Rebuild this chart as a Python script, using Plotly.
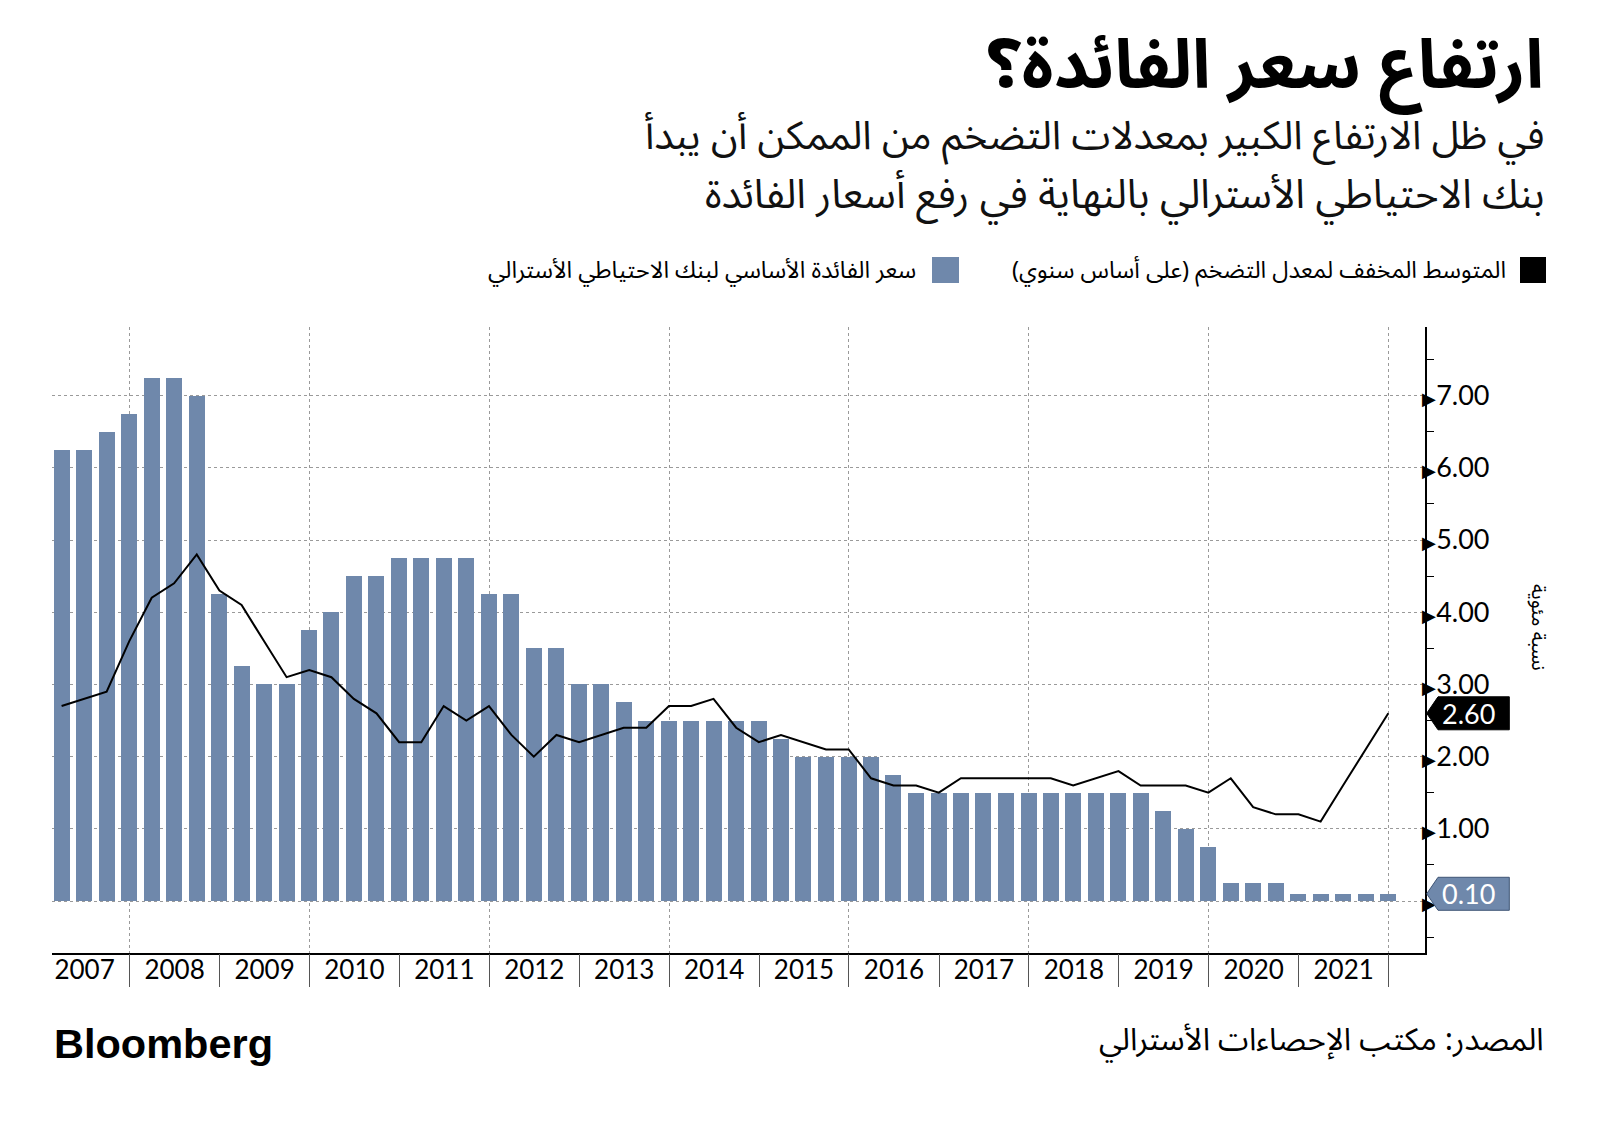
import plotly.graph_objects as go

# ---------------- data ----------------
years = list(range(2007, 2022))
quarter_ends = ["03-31", "06-30", "09-30", "12-31"]

cash_rate = [
    6.25, 6.25, 6.50, 6.75,   # 2007
    7.25, 7.25, 7.00, 4.25,   # 2008
    3.25, 3.00, 3.00, 3.75,   # 2009
    4.00, 4.50, 4.50, 4.75,   # 2010
    4.75, 4.75, 4.75, 4.25,   # 2011
    4.25, 3.50, 3.50, 3.00,   # 2012
    3.00, 2.75, 2.50, 2.50,   # 2013
    2.50, 2.50, 2.50, 2.50,   # 2014
    2.25, 2.00, 2.00, 2.00,   # 2015
    2.00, 1.75, 1.50, 1.50,   # 2016
    1.50, 1.50, 1.50, 1.50,   # 2017
    1.50, 1.50, 1.50, 1.50,   # 2018
    1.50, 1.25, 1.00, 0.75,   # 2019
    0.25, 0.25, 0.25, 0.10,   # 2020
    0.10, 0.10, 0.10, 0.10,   # 2021
]

trimmed_mean = [
    2.7, 2.8, 2.9, 3.6,   # 2007
    4.2, 4.4, 4.8, 4.3,   # 2008
    4.1, 3.6, 3.1, 3.2,   # 2009
    3.1, 2.8, 2.6, 2.2,   # 2010
    2.2, 2.7, 2.5, 2.7,   # 2011
    2.3, 2.0, 2.3, 2.2,   # 2012
    2.3, 2.4, 2.4, 2.7,   # 2013
    2.7, 2.8, 2.4, 2.2,   # 2014
    2.3, 2.2, 2.1, 2.1,   # 2015
    1.7, 1.6, 1.6, 1.5,   # 2016
    1.7, 1.7, 1.7, 1.7,   # 2017
    1.7, 1.6, 1.7, 1.8,   # 2018
    1.6, 1.6, 1.6, 1.5,   # 2019
    1.7, 1.3, 1.2, 1.2,   # 2020
    1.1, 1.6, 2.1, 2.6,   # 2021
]

y_ticks = [0, 1, 2, 3, 4, 5, 6, 7]
y_minor = [-0.5, 0.5, 1.5, 2.5, 3.5, 4.5, 5.5, 6.5, 7.5]
grid_years = [2008, 2010, 2012, 2014, 2016, 2018, 2020, 2022]

title_text = "ارتفاع سعر الفائدة؟"
subtitle_1 = "في ظل الارتفاع الكبير بمعدلات التضخم من الممكن أن يبدأ"
subtitle_2 = "بنك الاحتياطي الأسترالي بالنهاية في رفع أسعار الفائدة"
legend_line = "المتوسط المخفف لمعدل التضخم (على أساس سنوي)"
legend_bar = "سعر الفائدة الأساسي لبنك الاحتياطي الأسترالي"
axis_title = "نسبة مئوية"
source_text = "المصدر: مكتب الإحصاءات الأسترالي"

dates = [f"{y}-{q}" for y in years for q in quarter_ends]

# ---------------- geometry ----------------
W, H = 1600, 1121
ML, MR, MT, MB = 52, 175, 327, 168
PW = W - ML - MR
PH = H - MT - MB
Y0, Y1 = -0.72, 7.95


def px_x(x):
    return (x - ML) / PW


def px_y(y):
    return (H - MB - y) / PH


BAR = "#6f88ab"
ARABIC = "Noto Sans Arabic, DejaVu Sans, Noto Sans, sans-serif"
NUM = "Lato, Open Sans, sans-serif"

fig = go.Figure()
fig.add_trace(go.Bar(
    x=dates, y=cash_rate, name=legend_bar,
    marker=dict(color=BAR, line=dict(width=0)),
    width=65 * 86400000,
))
fig.add_trace(go.Scatter(
    x=dates, y=trimmed_mean, name=legend_line, mode="lines",
    line=dict(color="black", width=2), xaxis="x2", yaxis="y",
))

ytext = ['<span style="font-size:18px">▶</span>%.2f' % v for v in y_ticks]

fig.update_layout(
    width=W, height=H,
    margin=dict(l=ML, r=MR, t=MT, b=MB),
    paper_bgcolor="white", plot_bgcolor="white",
    showlegend=False,
    bargap=0,
    xaxis=dict(
        type="date", range=["2007-02-20", "2022-05-29"],
        tickmode="array", tickvals=[f"{y}-01-01" for y in grid_years],
        showticklabels=False, ticks="",
        showgrid=True, gridcolor="#9a9a9a", griddash="dot", gridwidth=1,
        showline=True, linecolor="black", linewidth=1.5,
        zeroline=False,
    ),
    xaxis2=dict(
        type="date", overlaying="x", matches="x", anchor="y", side="bottom",
        tickmode="linear", tick0="2007-01-01", dtick="M12",
        ticklabelmode="period", tickformat="%Y",
        ticks="outside", ticklen=33, tickcolor="#555555", tickwidth=1,
        ticklabelstandoff=-39,
        tickfont=dict(family=NUM, size=26, color="black"),
        showgrid=False, showline=False, zeroline=False,
    ),
    yaxis=dict(
        side="right", range=[Y0, Y1],
        tickmode="array", tickvals=y_ticks, ticktext=ytext,
        ticks="", ticklabelstandoff=-10,
        tickfont=dict(family=NUM, size=27, color="black"),
        showgrid=True, gridcolor="#9a9a9a", griddash="dot", gridwidth=1,
        showline=True, linecolor="black", linewidth=1.5,
        zeroline=False,
        minor=dict(tickvals=y_minor, ticks="outside", ticklen=7,
                   tickcolor="black", tickwidth=1, showgrid=False),
    ),
    yaxis2=dict(
        overlaying="y", matches="y", side="left", anchor="x",
        showline=True, linecolor="#8c8c8c", linewidth=1.5,
        showticklabels=False, ticks="", showgrid=False, zeroline=False,
    ),
)

ann = []
# titles
ann.append(dict(text="<b>" + title_text + "</b>", x=px_x(1546), y=px_y(67),
                xanchor="right", yanchor="middle",
                font=dict(family=ARABIC, size=68, color="black")))
ann.append(dict(text=subtitle_1, x=px_x(1546), y=px_y(137),
                xanchor="right", yanchor="middle",
                font=dict(family=ARABIC, size=39.5, color="#111111")))
ann.append(dict(text=subtitle_2, x=px_x(1546), y=px_y(195),
                xanchor="right", yanchor="middle",
                font=dict(family=ARABIC, size=40.5, color="#111111")))
# legend
ann.append(dict(text=legend_line + "\u200f", x=px_x(1508), y=px_y(270),
                xanchor="right", yanchor="middle",
                font=dict(family=ARABIC, size=23.5, color="black")))
ann.append(dict(text=legend_bar, x=px_x(918), y=px_y(270),
                xanchor="right", yanchor="middle",
                font=dict(family=ARABIC, size=23.5, color="black")))
# axis title
ann.append(dict(text=axis_title, x=px_x(1538), y=px_y(628), textangle=90,
                xanchor="center", yanchor="middle",
                font=dict(family=ARABIC, size=20, color="black")))
# footer
ann.append(dict(text="<b>Bloomberg</b>", x=px_x(52), y=px_y(1043),
                xanchor="left", yanchor="middle",
                font=dict(family="Liberation Sans, Arial, sans-serif", size=41.5,
                          color="black")))
ann.append(dict(text=source_text, x=px_x(1546), y=px_y(1040),
                xanchor="right", yanchor="middle",
                font=dict(family=ARABIC, size=31, color="black")))

# last-value tags
half = 16.5 * (Y1 - Y0) / PH
tip, shoulder, right = px_x(1426.7), px_x(1438), px_x(1509.3)
shapes = []
for val, fill, edge in [(trimmed_mean[-1], "black", "black"),
                        (cash_rate[-1], BAR, "#3f5575")]:
    path = (f"M {tip},{val} L {shoulder},{val + half} L {right},{val + half} "
            f"L {right},{val - half} L {shoulder},{val - half} Z")
    shapes.append(dict(type="path", path=path, xref="paper", yref="y",
                       fillcolor=fill, line=dict(color=edge, width=1),
                       layer="above"))
    ann.append(dict(text="%.2f" % val, x=px_x(1440), y=val, yref="y",
                    xref="paper", xanchor="left", yanchor="middle",
                    font=dict(family=NUM, size=27, color="white")))

# legend squares
shapes.append(dict(type="rect", xref="paper", yref="paper",
                   x0=px_x(1520), x1=px_x(1546), y0=px_y(283), y1=px_y(257),
                   fillcolor="black", line=dict(width=0)))
shapes.append(dict(type="rect", xref="paper", yref="paper",
                   x0=px_x(932), x1=px_x(959), y0=px_y(283), y1=px_y(257),
                   fillcolor=BAR, line=dict(width=0)))

for a in ann:
    a.setdefault("xref", "paper")
    a.setdefault("yref", "paper")
    a["showarrow"] = False
fig.update_layout(annotations=ann, shapes=shapes)

fig.write_html(
    "out.html",
    config={"displayModeBar": False},
    post_script="document.body.style.margin='0px';"
                "document.body.style.overflow='hidden';",
)
